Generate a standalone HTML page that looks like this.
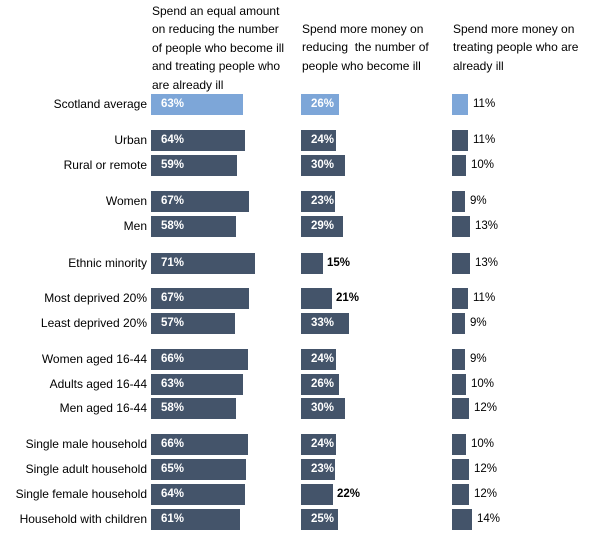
<!DOCTYPE html>
<html><head><meta charset="utf-8"><style>
body{margin:0;background:#fff;width:602px;height:533px;position:relative;overflow:hidden;font-family:"Liberation Sans",sans-serif;font-size:12px;color:#000}
.h{position:absolute;line-height:18.4px;font-size:12px;white-space:nowrap}
.l{position:absolute;right:455px;font-size:12px;line-height:21px;white-space:nowrap}
.b{position:absolute;height:21px;background:#44546A}
.b.s{background:#7DA6D8}
.t{position:absolute;font-size:11.5px;line-height:21px;color:#fff;font-weight:bold}
.o{position:absolute;font-size:11.5px;line-height:21px;color:#000}
</style></head><body>
<div class="h" style="left:152px;top:2px">Spend an equal amount<br>on reducing the number<br>of people who become ill<br>and treating people who<br>are already ill</div>
<div class="h" style="left:302px;top:20px">Spend more money on<br>reducing &nbsp;the number of<br>people who become ill</div>
<div class="h" style="left:453px;top:20px">Spend more money on<br>treating people who are<br>already ill</div>
<div id="c"></div>
<script>
var d=[["Scotland average",94,63,26,11,1],["Urban",130,64,24,11],["Rural or remote",155,59,30,10],["Women",191,67,23,9],["Men",216,58,29,13],["Ethnic minority",253,71,15,13],["Most deprived 20%",288,67,21,11],["Least deprived 20%",313,57,33,9],["Women aged 16-44",349,66,24,9],["Adults aged 16-44",374,63,26,10],["Men aged 16-44",398,58,30,12],["Single male household",434,66,24,10],["Single adult household",459,65,23,12],["Single female household",484,64,22,12],["Household with children",509,61,25,14]];
var h="",k=1.465;
d.forEach(function(r){var y=r[1],s=r[5]?" s":"";
h+='<div class="l" style="top:'+y+'px">'+r[0]+'</div>';
h+='<div class="b'+s+'" style="left:151px;top:'+y+'px;width:'+Math.round(r[2]*k)+'px"></div><div class="t" style="left:161px;top:'+y+'px">'+r[2]+'%</div>';
var w2=Math.round(r[3]*k);
h+='<div class="b'+s+'" style="left:301px;top:'+y+'px;width:'+w2+'px"></div>';
if(r[3]>=23)h+='<div class="t" style="left:311px;top:'+y+'px">'+r[3]+'%</div>';
else h+='<div class="o" style="left:'+(301+w2+4)+'px;top:'+y+'px;font-weight:bold">'+r[3]+'%</div>';
var w3=Math.round(r[4]*1.42);
h+='<div class="b'+s+'" style="left:452px;top:'+y+'px;width:'+w3+'px"></div><div class="o" style="left:'+(452+w3+5)+'px;top:'+y+'px">'+r[4]+'%</div>';
});
document.getElementById("c").innerHTML=h;
</script>
</body></html>
